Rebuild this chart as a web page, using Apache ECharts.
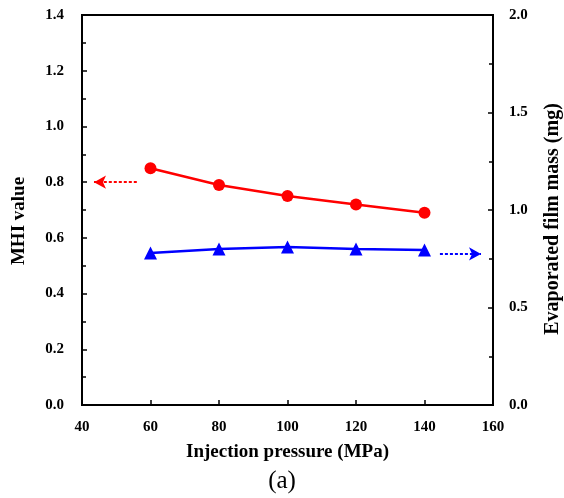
<!DOCTYPE html>
<html><head><meta charset="utf-8">
<script src="https://cdn.jsdelivr.net/npm/echarts@6/dist/echarts.min.js"></script>
<style>html,body{margin:0;padding:0;background:#fff}#c{width:564px;height:498px}</style>
</head><body><div id="c"></div>
<script>
var pressures = [60, 80, 100, 120, 140];
var mhiValues = [0.85, 0.79, 0.75, 0.72, 0.69];
var filmMass = [0.78, 0.80, 0.81, 0.80, 0.795];
var xTicks = [40, 60, 80, 100, 120, 140, 160];
var leftTicks = [0, 0.2, 0.4, 0.6, 0.8, 1.0, 1.2, 1.4];
var rightTicks = [0, 0.5, 1.0, 1.5, 2.0];
var redArrow = [[56, 0.80], [43.5, 0.80]];
var blueArrow = [[144.5, 0.775], [156.5, 0.775]];

var font = 'Liberation Serif, Times New Roman, serif';
var chart = echarts.init(document.getElementById('c'));
function pairs(xs, ys){ return xs.map(function(x,i){return [x, ys[i]];}); }
chart.setOption({
  animation: false,
  backgroundColor: '#fff',
  grid: {left: 82, right: 71, top: 15, bottom: 93, containLabel: false, outerBoundsMode: 'none',
    show: true, borderColor: '#000', borderWidth: 2, backgroundColor: 'transparent'},
  title: {text: '(a)', left: 'center', top: 464, textStyle: {fontFamily: font, fontSize: 25, fontWeight: 'normal', color: '#000'}},
  xAxis: {
    type: 'value', min: xTicks[0], max: xTicks[xTicks.length-1], interval: 20,
    name: 'Injection pressure (MPa)', nameLocation: 'middle', nameGap: 38,
    nameTextStyle: {fontFamily: font, fontSize: 19, fontWeight: 'bold', color: '#000'},
    axisLine: {lineStyle: {color: '#000', width: 2}},
    axisTick: {inside: true, length: 5, lineStyle: {color: '#000', width: 1.5}},
    axisLabel: {fontFamily: font, fontSize: 15, fontWeight: 'bold', color: '#000', margin: 15},
    splitLine: {show: false}
  },
  yAxis: [{
    type: 'value', min: leftTicks[0], max: leftTicks[leftTicks.length-1], interval: 0.2,
    name: 'MHI value', nameLocation: 'middle', nameGap: 53,
    nameTextStyle: {fontFamily: font, fontSize: 19, fontWeight: 'bold', color: '#000', padding: [0, 22, 0, 0]},
    axisLine: {show: true, lineStyle: {color: '#000', width: 2}},
    axisTick: {show: true, inside: true, length: 5, lineStyle: {color: '#000', width: 1.5}},
    minorTick: {show: true, splitNumber: 2, length: 4, lineStyle: {color: '#000', width: 1.5}},
    axisLabel: {fontFamily: font, fontSize: 15, fontWeight: 'bold', color: '#000', margin: 18, formatter: function(v){return v.toFixed(1);}},
    splitLine: {show: false}
  }, {
    type: 'value', position: 'right', min: rightTicks[0], max: rightTicks[rightTicks.length-1], interval: 0.5,
    name: 'Evaporated film mass (mg)', nameLocation: 'middle', nameGap: 50, nameRotate: 90,
    nameTextStyle: {fontFamily: font, fontSize: 20, fontWeight: 'bold', color: '#000', padding: [0, 18, 0, 0]},
    axisLine: {show: true, lineStyle: {color: '#000', width: 2}},
    axisTick: {show: true, inside: true, length: 5, lineStyle: {color: '#000', width: 1.5}},
    minorTick: {show: true, splitNumber: 2, length: 4, lineStyle: {color: '#000', width: 1.5}},
    axisLabel: {fontFamily: font, fontSize: 15, fontWeight: 'bold', color: '#000', margin: 16, formatter: function(v){return v.toFixed(1);}},
    splitLine: {show: false}
  }],
  series: [{
    type: 'line', yAxisIndex: 0, data: pairs(pressures, mhiValues),
    symbol: 'circle', symbolSize: 12, itemStyle: {color: '#ff0000'},
    lineStyle: {color: '#ff0000', width: 2.5},
    markLine: {silent: true, symbol: ['none', 'arrow'], symbolSize: [10, 12], label: {show: false},
      lineStyle: {color: '#ff0000', type: [3, 2], width: 2},
      data: [[{coord: redArrow[0]}, {coord: redArrow[1]}]]}
  }, {
    type: 'line', yAxisIndex: 1, data: pairs(pressures, filmMass),
    symbol: 'triangle', symbolSize: 13, itemStyle: {color: '#0000ff'},
    lineStyle: {color: '#0000ff', width: 2.5},
    markLine: {silent: true, symbol: ['none', 'arrow'], symbolSize: [10, 12], label: {show: false},
      lineStyle: {color: '#0000ff', type: [3, 2], width: 2},
      data: [[{coord: blueArrow[0]}, {coord: blueArrow[1]}]]}
  }]
});
</script></body></html>
